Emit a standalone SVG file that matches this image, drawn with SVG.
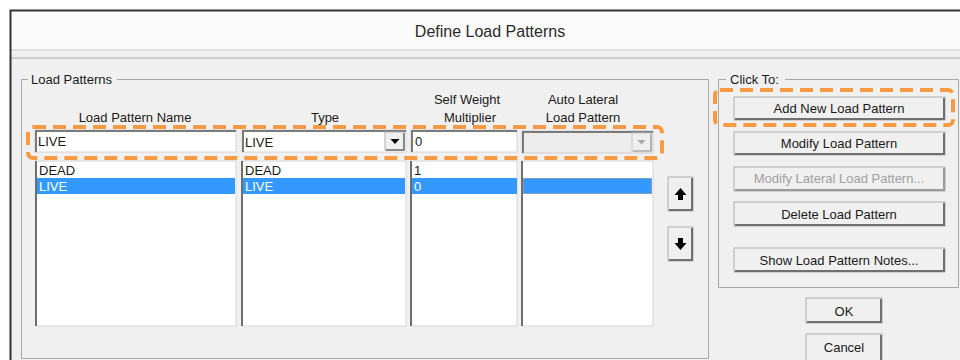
<svg xmlns="http://www.w3.org/2000/svg" width="960" height="360" viewBox="0 0 960 360">
<defs>
<style>
text{font-family:"Liberation Sans",Arial,sans-serif;fill:#1a1a1a;}
.t{font-size:13px;}
.c{text-anchor:middle;}
.dis{fill:#a0a0a0;}
.sel{fill:#fff;}
.hl{stroke:#f79a43;stroke-width:4;fill:none;stroke-dasharray:13 7;}
.grp{fill:none;stroke:#a8a8a8;stroke-width:1;}
.btn{fill:#f0f0f0;stroke:#adadad;stroke-width:1;}
.btnsh{fill:none;stroke:#707070;stroke-width:2;}
.box{fill:#fff;stroke:#d4d4d4;stroke-width:1;}
.sunk{fill:none;stroke:#7a7a7a;stroke-width:2;}
</style>
</defs>
<rect x="0" y="0" width="960" height="360" fill="#fff"/>
<g id="window">
<rect x="10" y="10" width="952" height="352" fill="#f0f0f0"/>
<rect x="10" y="10" width="952" height="40" fill="#fbfbfb"/>
<line x1="10" y1="50" x2="960" y2="50" stroke="#d6d6d6" stroke-width="1.5"/>
<line x1="10" y1="58" x2="960" y2="58" stroke="#c4c4c4" stroke-width="1.5"/>
<path d="M10.5 362 V10.5 H962" fill="none" stroke="#333" stroke-width="2"/>
<text x="490" y="37" class="c" font-size="16" style="fill:#2a2a2a">Define Load Patterns</text>
</g>
<g id="load-patterns-group">
<path d="M28 79.5 H21.5 V358.5 H708.5 V79.5 H117" class="grp"/>
<text x="31" y="84" class="t">Load Patterns</text>
<text x="135" y="122" class="t c">Load Pattern Name</text>
<text x="325" y="122" class="t c">Type</text>
<text x="467" y="104" class="t c">Self Weight</text>
<text x="470" y="122" class="t c">Multiplier</text>
<text x="583" y="104" class="t c">Auto Lateral</text>
<text x="583" y="122" class="t c">Load Pattern</text>
</g>
<g id="input-name">
<rect x="35" y="130" width="201" height="22" class="box"/>
<path d="M36 152 V131 H236" class="sunk" stroke-width="1.5"/>
<text x="38" y="146" class="t">LIVE</text>
</g>
<g id="input-type">
<rect x="242" y="130" width="164" height="22" class="box"/>
<path d="M243 152 V131 H406" class="sunk" stroke-width="1.5"/>
<text x="245" y="147" class="t">LIVE</text>
<rect x="385" y="132" width="19" height="18" fill="#f0f0f0" stroke="#b0b0b0"/>
<path d="M404 133 V150 H386" fill="none" stroke="#707070" stroke-width="1.5"/>
<path d="M390.5 139 H399.5 L395 144 Z" fill="#000"/>
</g>
<g id="input-multiplier">
<rect x="411" y="130" width="106" height="22" class="box"/>
<path d="M412 152 V131 H517" class="sunk" stroke-width="1.5"/>
<text x="415" y="146" class="t">0</text>
</g>
<g id="input-auto-lateral">
<rect x="522" y="131" width="131" height="22" fill="#ececec" stroke="#cfcfcf"/>
<path d="M523 153 V132 H653" class="sunk" stroke-width="1.5"/>
<rect x="632" y="133" width="19" height="18" fill="#efefef" stroke="#c8c8c8"/>
<path d="M651 134 V151 H633" fill="none" stroke="#9a9a9a" stroke-width="1.2"/>
<path d="M637.5 140 H645.5 L641.5 144.5 Z" fill="#a8a8a8"/>
</g>
<g id="highlight-input-row">
<rect x="28" y="127" width="634" height="31" rx="5" class="hl"/>
</g>
<g id="list-name">
<rect x="36" y="161" width="200" height="165" class="box"/>
<line x1="36" y1="161" x2="36" y2="326" stroke="#6e6e6e" stroke-width="2"/>
<text x="39" y="175" class="t">DEAD</text>
<rect x="37" y="178" width="198" height="16" fill="#3399ff"/>
<text x="39" y="191" class="t sel">LIVE</text>
</g>
<g id="list-type">
<rect x="242" y="161" width="164" height="165" class="box"/>
<line x1="242" y1="161" x2="242" y2="326" stroke="#6e6e6e" stroke-width="2"/>
<text x="245" y="175" class="t">DEAD</text>
<rect x="243" y="178" width="162" height="16" fill="#3399ff"/>
<text x="245" y="191" class="t sel">LIVE</text>
</g>
<g id="list-multiplier">
<rect x="411" y="161" width="106" height="165" class="box"/>
<line x1="411" y1="161" x2="411" y2="326" stroke="#6e6e6e" stroke-width="2"/>
<text x="414" y="175" class="t">1</text>
<rect x="412" y="178" width="105" height="16" fill="#3399ff"/>
<text x="414" y="191" class="t sel">0</text>
</g>
<g id="list-auto-lateral">
<rect x="522" y="161" width="131" height="165" class="box"/>
<line x1="522" y1="161" x2="522" y2="326" stroke="#6e6e6e" stroke-width="2"/>
<rect x="523.5" y="178.5" width="128" height="15" fill="#3399ff" stroke="#555" stroke-width="0.8" stroke-dasharray="1 1"/>
</g>
<g id="btn-up">
<rect x="668" y="177" width="25" height="34" class="btn"/>
<path d="M692 178 V210 H669" class="btnsh" stroke-width="1.5"/>
<path d="M680.5 188 L686.5 195 H683 V200 H678 V195 H674.5 Z" fill="#000"/>
</g>
<g id="btn-down">
<rect x="668" y="227" width="25" height="34" class="btn"/>
<path d="M692 228 V260 H669" class="btnsh" stroke-width="1.5"/>
<path d="M680.5 250 L686.5 243 H683 V238 H678 V243 H674.5 Z" fill="#000"/>
</g>
<g id="click-to-group">
<path d="M726 79.5 H718.5 V287.5 H958.5 V79.5 H785" class="grp"/>
<text x="730" y="84" class="t">Click To:</text>
</g>
<g id="btn-add">
<rect x="734" y="97" width="211" height="23" class="btn"/>
<path d="M944 98 V119 H735" class="btnsh"/>
<text x="839" y="113" class="t c">Add New Load Pattern</text>
</g>
<g id="highlight-add">
<rect x="715" y="90" width="238" height="35" rx="5" class="hl"/>
</g>
<g id="btn-modify">
<rect x="734" y="132" width="211" height="23" class="btn"/>
<path d="M944 133 V154 H735" class="btnsh"/>
<text x="839" y="148" class="t c">Modify Load Pattern</text>
</g>
<g id="btn-modify-lateral">
<rect x="734" y="167" width="211" height="24" class="btn"/>
<path d="M944 168 V190 H735" fill="none" stroke="#9a9a9a" stroke-width="2"/>
<text x="839" y="183" class="t c dis">Modify Lateral Load Pattern...</text>
</g>
<g id="btn-delete">
<rect x="734" y="202" width="211" height="24" class="btn"/>
<path d="M944 203 V225 H735" class="btnsh"/>
<text x="839" y="219" class="t c">Delete Load Pattern</text>
</g>
<g id="btn-notes">
<rect x="734" y="248" width="211" height="24" class="btn"/>
<path d="M944 249 V271 H735" class="btnsh"/>
<text x="839" y="265" class="t c">Show Load Pattern Notes...</text>
</g>
<g id="btn-ok">
<rect x="806" y="298" width="76" height="25" class="btn" stroke="#707070"/>
<path d="M881 299 V322 H807" class="btnsh"/>
<text x="844" y="316" class="t c">OK</text>
</g>
<g id="btn-cancel">
<rect x="806" y="334" width="76" height="27" class="btn"/>
<path d="M881 335 V361" class="btnsh"/>
<text x="844" y="352" class="t c">Cancel</text>
</g>
</svg>
